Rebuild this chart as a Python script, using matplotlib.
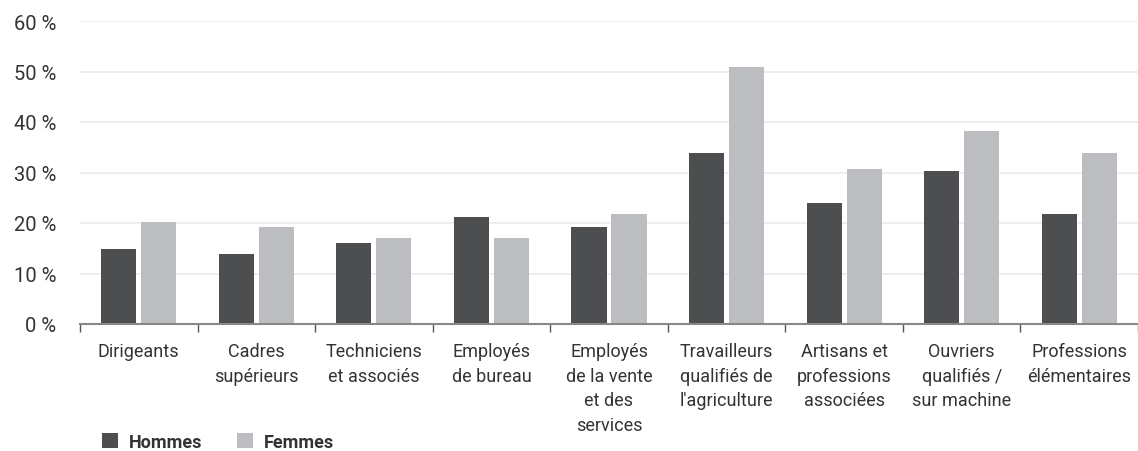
import matplotlib.pyplot as plt
import numpy as np

# données (%)
categories = ["Dirigeants", "Cadres\nsupérieurs", "Techniciens\net associés",
              "Employés\nde bureau", "Employés\nde la vente\net des\nservices",
              "Travailleurs\nqualifiés de\nl'agriculture", "Artisans et\nprofessions\nassociées",
              "Ouvriers\nqualifiés /\nsur machine", "Professions\nélémentaires"]
hommes = [14.9, 13.9, 16.0, 21.2, 19.2, 33.9, 24.0, 30.3, 21.8]
femmes = [20.2, 19.2, 17.0, 17.0, 21.8, 50.9, 30.7, 38.2, 33.9]
yticks = [0, 10, 20, 30, 40, 50, 60]

plt.rcParams['font.family'] = ['Roboto', 'DejaVu Sans']
txt_col = '#333333'

fig = plt.figure(figsize=(11.38, 4.52), dpi=100)
ax = fig.add_axes([80 / 1138, 1 - 325 / 452, 1 - 80 / 1138, (325 - 22) / 452])

x = np.arange(len(categories))
w = 0.298
ax.bar(x - 0.17, hommes, w, color='#4d4e50', label='Hommes', zorder=3)
ax.bar(x + 0.17, femmes, w, color='#bcbdc1', label='Femmes', zorder=3)

ax.set_xlim(-0.5, len(categories) - 0.5)
ax.set_ylim(0, 60)
ax.set_yticks(yticks)
ax.set_yticklabels(["{0} %".format(v) for v in yticks], fontsize=14.5, color=txt_col)
ax.tick_params(axis='y', length=0, pad=17)
ax.grid(axis='y', color='#ebebeb', linewidth=1.2, zorder=0)

ax.set_xticks(x)
ax.set_xticklabels(categories, fontsize=13, color=txt_col, linespacing=1.47)
ax.tick_params(axis='x', length=0, pad=13)
ax.set_xticks(np.arange(len(categories) + 1) - 0.5, minor=True)
ax.tick_params(axis='x', which='minor', length=6, width=1, color='#555555')

for s in ['top', 'right', 'left']:
    ax.spines[s].set_visible(False)
ax.spines['bottom'].set_color('#888888')
ax.spines['bottom'].set_linewidth(1.5)
ax.spines['bottom'].set_zorder(4)

fig.legend(loc='center left', bbox_to_anchor=(102 / 1138, 1 - 443 / 452), ncol=2, frameon=False,
           prop={'weight': 'bold', 'size': 13}, handlelength=0.89, handleheight=0.89,
           handletextpad=0.6, columnspacing=1.9, labelcolor=txt_col,
           borderpad=0, borderaxespad=0)

fig.savefig('out.png', dpi=100)
